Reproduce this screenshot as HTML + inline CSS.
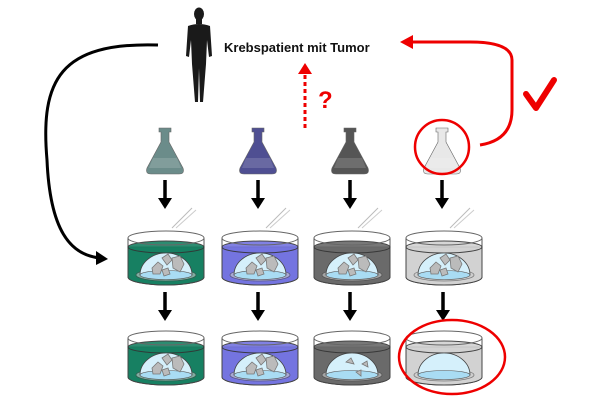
<!DOCTYPE html>
<html><head><meta charset="utf-8"><style>
html,body{margin:0;padding:0;background:#fff;width:600px;height:400px;overflow:hidden}
</style></head><body>
<svg width="600" height="400" viewBox="0 0 600 400" xmlns="http://www.w3.org/2000/svg">
<defs>
<g id="dish">
  <path d="M-38,8 V47 A38,8 0 0 0 38,47 V8" fill="#fff" stroke="#555" stroke-width="1"/>
  <path d="M-38,17 V47 A38,8 0 0 0 38,47 V17 Z" fill="currentColor" stroke="#444" stroke-width="1"/>
  <ellipse cx="0" cy="17" rx="38" ry="6" fill="currentColor" stroke="#333" stroke-width="1" opacity="0.9"/>
  <ellipse cx="0" cy="8" rx="38" ry="7" fill="none" stroke="#666" stroke-width="1"/>
  <ellipse cx="0" cy="45" rx="30" ry="6" fill="#ccc" stroke="#444" stroke-width="0.8" opacity="0.6"/>
  <path d="M-26,45 A26,22 0 0 1 26,45 Z" fill="#d5f0fb" stroke="#444" stroke-width="0.8"/>
  <ellipse cx="0" cy="45" rx="26" ry="4.5" fill="#a9dcf3" stroke="#555" stroke-width="0.6"/>
</g>
<g id="frag">
  <polygon points="-14,38 -8,32 -3,36 -6,44 -13,44" fill="#bbb" stroke="#777" stroke-width="0.8"/>
  <polygon points="-4,28 2,24 6,30 1,35" fill="#bbb" stroke="#777" stroke-width="0.8"/>
  <polygon points="6,28 14,26 18,34 14,42 7,38" fill="#bbb" stroke="#777" stroke-width="0.8"/>
  <polygon points="-4,40 2,38 4,44 -2,46" fill="#bbb" stroke="#777" stroke-width="0.8"/>
</g>
<g id="pip"><line x1="6" y1="-2" x2="26" y2="-22" stroke="#bbb" stroke-width="1"/><line x1="10" y1="-2" x2="30" y2="-20" stroke="#ccc" stroke-width="1"/></g>
<g id="flask">
  <path d="M-6,0 H6 V4 H4 V14 L18,40 Q20,46 14,46 H-14 Q-20,46 -18,40 L-4,14 V4 H-6 Z" fill="currentColor" stroke="#666" stroke-width="0.6"/>
  <path d="M-12,30 H12 L16,40 H-16Z" fill="#fff" opacity="0.15"/>
</g>
<g id="arr"><line x1="0" y1="0" x2="0" y2="20" stroke="#000" stroke-width="3.5"/><polygon points="-7,18 7,18 0,29" fill="#000"/></g>
</defs>

<!-- human -->
<g fill="#1a1a1a">
  <ellipse cx="199" cy="14" rx="5" ry="6.5"/>
  <rect x="196" y="19" width="6" height="5"/>
  <path d="M188,26 Q199,22 210,26 L212,56 L209,57 L207,40 L206,64 L203,102 H200 L199,68 L198,102 H195 L192,64 L191,40 L189,57 L186,56 Z"/>
</g>
<text x="224" y="52" font-family="Liberation Sans, sans-serif" font-weight="bold" font-size="13" fill="#111">Krebspatient mit Tumor</text>

<!-- black curve -->
<path d="M158,45 C60,42 40,80 47,160 C50,230 70,255 100,258" fill="none" stroke="#000" stroke-width="3"/>
<polygon points="96,251 108,259 96,265" fill="#000"/>

<!-- red feedback -->
<path d="M480,145 Q512,140 512,110 V60 Q512,42 470,42 H410" fill="none" stroke="#e00" stroke-width="3"/>
<polygon points="400,42 413,35 413,49" fill="#e00"/>
<path d="M526,94 L536,108 L554,80" fill="none" stroke="#e00" stroke-width="6" stroke-linecap="round" stroke-linejoin="round"/>

<!-- dotted red arrow -->
<line x1="305" y1="128" x2="305" y2="72" stroke="#e00" stroke-width="3" stroke-dasharray="4,3"/>
<polygon points="298,74 312,74 305,63" fill="#e00"/>
<text x="318" y="108" font-family="Liberation Sans, sans-serif" font-weight="bold" font-size="24" fill="#e00">?</text>

<!-- flasks -->
<use href="#flask" x="165" y="128" style="color:#6b8c8a"/>
<use href="#flask" x="258" y="128" style="color:#4f4f92"/>
<use href="#flask" x="350" y="128" style="color:#555"/>
<use href="#flask" x="442" y="128" style="color:#e8e8e8"/>
<circle cx="442" cy="147" r="27" fill="none" stroke="#e00" stroke-width="2.5"/>

<!-- arrows row1 -->
<use href="#arr" x="165" y="180"/><use href="#arr" x="258" y="180"/><use href="#arr" x="350" y="180"/><use href="#arr" x="442" y="180"/>

<!-- dishes row1 -->
<g transform="translate(166,230)"><use href="#dish" style="color:#178062"/><use href="#frag"/><use href="#pip"/></g>
<g transform="translate(260,230)"><use href="#dish" style="color:#7474e0"/><use href="#frag"/><use href="#pip"/></g>
<g transform="translate(352,230)"><use href="#dish" style="color:#6a6a6a"/><use href="#frag"/><use href="#pip"/></g>
<g transform="translate(444,230)"><use href="#dish" style="color:#d2d2d2"/><use href="#frag"/><use href="#pip"/></g>

<!-- arrows row2 -->
<use href="#arr" x="165" y="292"/><use href="#arr" x="258" y="292"/><use href="#arr" x="350" y="292"/><use href="#arr" x="443" y="292"/>

<!-- dishes row2 -->
<g transform="translate(166,330)"><use href="#dish" style="color:#178062"/><use href="#frag"/></g>
<g transform="translate(260,330)"><use href="#dish" style="color:#7474e0"/><use href="#frag"/></g>
<g transform="translate(352,330)"><use href="#dish" style="color:#6a6a6a"/>
  <polygon points="-6,32 -1,28 2,34" fill="#bbb" stroke="#777" stroke-width="0.8"/>
  <polygon points="10,34 15,31 16,37" fill="#bbb" stroke="#777" stroke-width="0.8"/>
  <polygon points="4,42 9,40 9,46" fill="#bbb" stroke="#777" stroke-width="0.8"/></g>
<g transform="translate(444,330)"><use href="#dish" style="color:#d2d2d2"/></g>
<ellipse cx="452" cy="357" rx="53" ry="37" fill="none" stroke="#e00" stroke-width="2.5"/>
</svg>
</body></html>
